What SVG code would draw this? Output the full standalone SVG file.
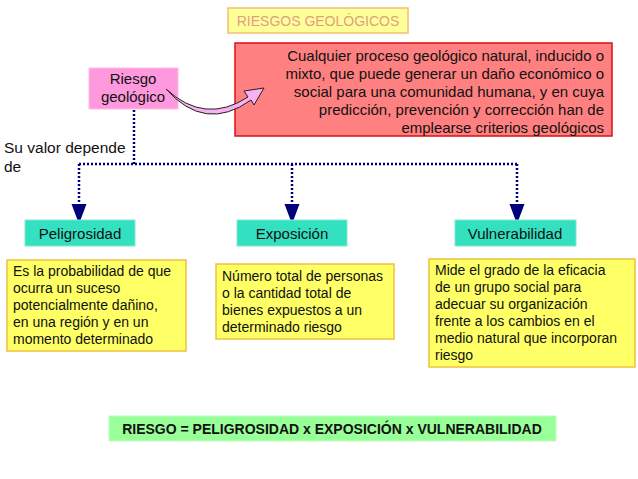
<svg xmlns="http://www.w3.org/2000/svg" width="638" height="479" viewBox="0 0 638 479">
<style>
text{font-family:"Liberation Sans",Arial,sans-serif;font-size:15px;fill:#111}
.s{font-size:14px}
.t{fill:#33e0c0;stroke:#7fe8d0}
.y{fill:#ffff66;stroke:#f0c040;stroke-width:1.5}
.c{fill:none;stroke:#00007a;stroke-width:2.5;stroke-dasharray:2 2}
</style>
<defs><marker id="a" markerWidth="8" markerHeight="8" refX="4" refY="4" orient="auto"><path d="M0,1 L8,4 L0,7Z" fill="#00007a"/></marker></defs>
<rect width="638" height="479" fill="#fff"/>
<g id="title"><rect x="228" y="8" width="180" height="25" fill="#ffff99" stroke="#f0c070" stroke-width="1.5"/><text x="318" y="26" text-anchor="middle" style="fill:#e0a080;font-size:14px">RIESGOS GEOLÓGICOS</text></g>
<g id="riesgo"><rect x="89" y="68" width="89" height="41" fill="#ff99dd" stroke="#ffbbe8"/><text x="133" y="84" text-anchor="middle">Riesgo</text><text x="133" y="102" text-anchor="middle">geológico</text></g>
<g id="def"><rect x="235" y="43" width="377" height="93" fill="#ff8080" stroke="#dd1111" stroke-width="1.5"/>
<g text-anchor="end"><text x="604" y="61">Cualquier proceso geológico natural, inducido o</text><text x="604" y="79">mixto, que puede generar un daño económico o</text><text x="604" y="97">social para una comunidad humana, y en cuya</text><text x="604" y="115">predicción, prevención y corrección han de</text><text x="604" y="133">emplearse criterios geológicos</text></g></g>
<text x="4" y="153" style="font-size:15.5px">Su valor depende</text><text x="4" y="172" style="font-size:15.5px">de</text>
<g id="connectors">
<path d="M166,89 Q205,125 248,97 L244,91 L264,88 L254,105 L251,100 Q205,133 166,89Z" fill="#f7b0f0" stroke="#222" stroke-width="1"/>
<path class="c" d="M134,110 V164 M79,164 H517"/>
<path class="c" d="M79,164 V214" marker-end="url(#a)"/>
<path class="c" d="M292,164 V214" marker-end="url(#a)"/>
<path class="c" d="M517,164 V214" marker-end="url(#a)"/>
</g>
<g id="peligrosidad"><rect class="t" x="25" y="220" width="110" height="26"/><text x="80" y="239" text-anchor="middle">Peligrosidad</text></g>
<g id="exposicion"><rect class="t" x="237" y="220" width="110" height="26"/><text x="292" y="239" text-anchor="middle">Exposición</text></g>
<g id="vulnerabilidad"><rect class="t" x="455" y="220" width="121" height="26"/><text x="515" y="239" text-anchor="middle">Vulnerabilidad</text></g>
<g id="d1"><rect class="y" x="7" y="260" width="179" height="91"/><text class="s" x="13" y="276">Es la probabilidad de que</text><text class="s" x="13" y="293">ocurra un suceso</text><text class="s" x="13" y="310">potencialmente dañino,</text><text class="s" x="13" y="327">en una región y en un</text><text class="s" x="13" y="344">momento determinado</text></g>
<g id="d2"><rect class="y" x="216" y="264" width="178" height="75"/><text class="s" x="222" y="281">Número total de personas</text><text class="s" x="222" y="298">o la cantidad total de</text><text class="s" x="222" y="315">bienes expuestos a un</text><text class="s" x="222" y="332">determinado riesgo</text></g>
<g id="d3"><rect class="y" x="429" y="259" width="206" height="108"/><text class="s" x="435" y="275">Mide el grado de la eficacia</text><text class="s" x="435" y="292">de un grupo social para</text><text class="s" x="435" y="309">adecuar su organización</text><text class="s" x="435" y="326">frente a los cambios en el</text><text class="s" x="435" y="343">medio natural que incorporan</text><text class="s" x="435" y="360">riesgo</text></g>
<g id="formula"><rect x="109" y="416" width="447" height="25" fill="#99ff99" stroke="#bbffbb"/><text x="332" y="434" text-anchor="middle" style="font-weight:bold;font-size:14px">RIESGO = PELIGROSIDAD x EXPOSICIÓN x VULNERABILIDAD</text></g>
</svg>
